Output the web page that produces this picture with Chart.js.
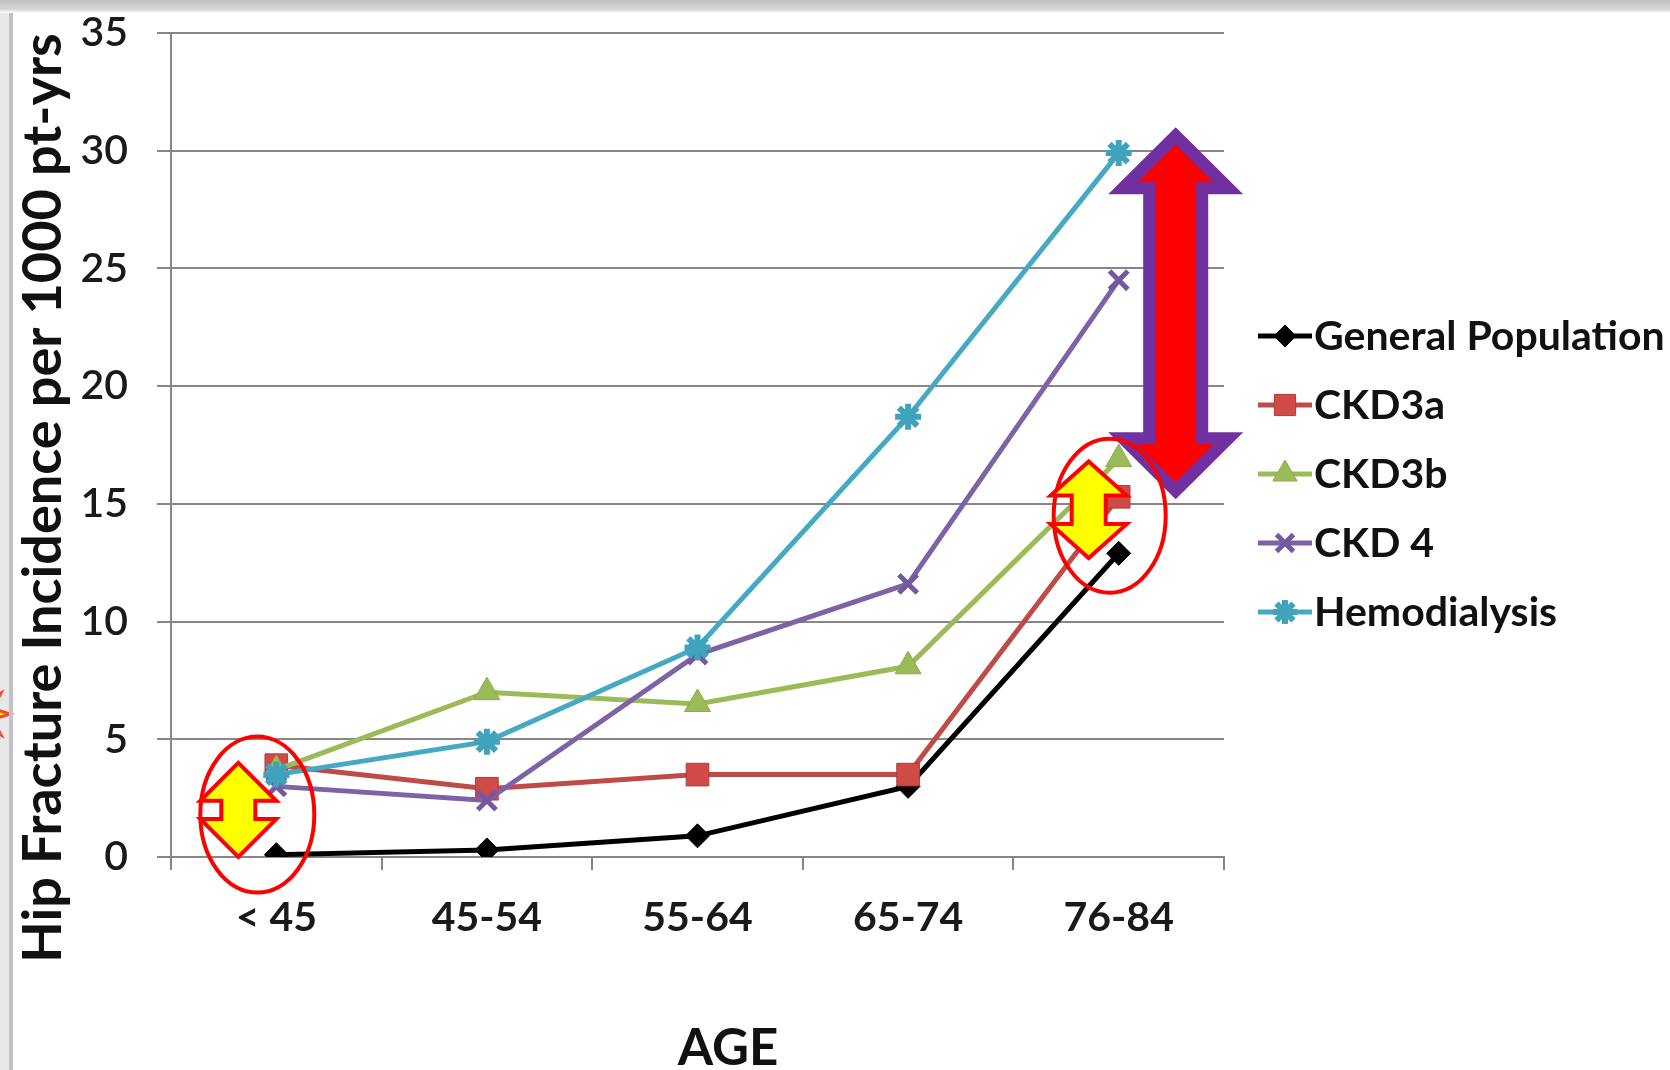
<!DOCTYPE html>
<html>
<head>
<meta charset="utf-8">
<script src="https://cdn.jsdelivr.net/npm/chart.js@4.4.1/dist/chart.umd.min.js"></script>
<style>
  html, body { margin: 0; padding: 0; background: #ffffff; overflow: hidden; }
  canvas { display: block; }
</style>
</head>
<body>
<canvas id="chart" width="1670" height="1070"></canvas>
<script>
// Hip fracture incidence per 1000 patient-years by age group
const ageGroups = ['< 45', '45-54', '55-64', '65-74', '76-84'];
const seriesNames = ['General Population', 'CKD3a', 'CKD3b', 'CKD 4', 'Hemodialysis'];
const generalPopulation = [0.1, 0.3, 0.9, 3.0, 12.9];
const ckd3a = [3.9, 2.9, 3.5, 3.5, 15.3];
const ckd3b = [3.7, 7.0, 6.5, 8.1, 16.9];
const ckd4 = [3.0, 2.4, 8.6, 11.6, 24.5];
const hemodialysis = [3.5, 4.9, 8.9, 18.7, 29.9];
const yTicks = [0, 5, 10, 15, 20, 25, 30, 35];

const FONT = 'Lato, "Open Sans", "DejaVu Sans", sans-serif';
const GRID = '#878787';

const styles = [
  { line: '#000000', fill: '#000000', edge: '#000000', shape: 'rectRot', r: 12, bw: 1 },
  { line: '#BE4B48', fill: '#D04A47', edge: '#B03B38', shape: 'rect', r: 16, bw: 1 },
  { line: '#9BBB59', fill: '#9BBB59', edge: '#8DAA50', shape: 'triangle', r: 15, bw: 1 },
  { line: '#7E62A6', fill: '#7E62A6', edge: '#7459A0', shape: 'crossRot', r: 13, bw: 5 },
  { line: '#45A9C4', fill: '#45A9C4', edge: '#3FA3BE', shape: 'star', r: 13, bw: 6 }
];
const values = [generalPopulation, ckd3a, ckd3b, ckd4, hemodialysis];

const datasets = values.map((data, i) => ({
  label: seriesNames[i],
  data: data,
  borderColor: styles[i].line,
  backgroundColor: styles[i].fill,
  borderWidth: 5,
  tension: 0,
  pointStyle: styles[i].shape,
  pointRadius: styles[i].r,
  pointHoverRadius: styles[i].r,
  pointBackgroundColor: styles[i].fill,
  pointBorderColor: styles[i].edge,
  pointBorderWidth: styles[i].bw,
  order: values.length - i
}));

// Up/down double arrow outline
function doubleArrowPath(ctx, cx, yTop, yBot, headHalf, shaftHalf, headLen) {
  ctx.beginPath();
  ctx.moveTo(cx, yTop);
  ctx.lineTo(cx + headHalf, yTop + headLen);
  ctx.lineTo(cx + shaftHalf, yTop + headLen);
  ctx.lineTo(cx + shaftHalf, yBot - headLen);
  ctx.lineTo(cx + headHalf, yBot - headLen);
  ctx.lineTo(cx, yBot);
  ctx.lineTo(cx - headHalf, yBot - headLen);
  ctx.lineTo(cx - shaftHalf, yBot - headLen);
  ctx.lineTo(cx - shaftHalf, yTop + headLen);
  ctx.lineTo(cx - headHalf, yTop + headLen);
  ctx.closePath();
}

// Slide frame: grey top strip and left edge
const framePlugin = {
  id: 'frame',
  beforeDraw(chart) {
    const ctx = chart.ctx;
    ctx.save();
    ctx.fillStyle = '#ffffff';
    ctx.fillRect(0, 0, chart.width, chart.height);
    ctx.fillStyle = '#e8e8e8';
    ctx.fillRect(0, 0, 9, chart.height);
    // burst shape peeking in from the left edge
    ctx.beginPath();
    const bx = -20, by = 714, outer = 30, inner = 14, pts = 8;
    for (let k = 0; k < pts * 2; k++) {
      const a = (Math.PI * k) / pts;
      const rr = k % 2 === 0 ? outer : inner;
      const px = bx + rr * Math.cos(a), py = by + rr * Math.sin(a);
      if (k === 0) ctx.moveTo(px, py); else ctx.lineTo(px, py);
    }
    ctx.closePath();
    ctx.fillStyle = '#FFFF00';
    ctx.fill();
    ctx.strokeStyle = '#F04A3A';
    ctx.lineWidth = 3;
    ctx.stroke();
    ctx.fillStyle = '#c2c2c2';
    ctx.fillRect(9, 0, 4, chart.height);
    const g = ctx.createLinearGradient(0, 0, 0, 13);
    g.addColorStop(0, '#c0c0c0');
    g.addColorStop(0.7, '#d4d4d4');
    g.addColorStop(1, '#ffffff');
    ctx.fillStyle = g;
    ctx.fillRect(0, 0, chart.width, 13);
    ctx.restore();
  }
};

// Axis titles
const titlesPlugin = {
  id: 'titles',
  afterDraw(chart) {
    const ctx = chart.ctx;
    ctx.save();
    ctx.fillStyle = '#111111';
    ctx.font = 'bold 51px ' + FONT;
    ctx.textAlign = 'center';
    ctx.textBaseline = 'alphabetic';
    ctx.fillText('AGE', 728, 1065);
    ctx.translate(61, 498);
    ctx.rotate(-Math.PI / 2);
    ctx.font = 'bold 54px ' + FONT;
    ctx.fillText('Hip Fracture Incidence per 1000 pt-yrs', 0, 0);
    ctx.restore();
  }
};

// Legend with line-and-marker keys
const legendPlugin = {
  id: 'sideLegend',
  afterDraw(chart) {
    const ctx = chart.ctx;
    const x0 = chart.chartArea.right + 34;
    const y0 = 336;
    const step = 69;
    ctx.save();
    ctx.font = 'bold 41px ' + FONT;
    ctx.textAlign = 'left';
    ctx.textBaseline = 'alphabetic';
    seriesNames.forEach((name, i) => {
      const y = y0 + i * step;
      const s = styles[i];
      ctx.strokeStyle = s.line;
      ctx.lineWidth = 5;
      ctx.beginPath();
      ctx.moveTo(x0, y);
      ctx.lineTo(x0 + 54, y);
      ctx.stroke();
      ctx.fillStyle = s.fill;
      ctx.strokeStyle = s.edge;
      ctx.lineWidth = s.bw;
      Chart.helpers.drawPoint(ctx, { pointStyle: s.shape, radius: s.r - 1, rotation: 0, borderWidth: s.bw }, x0 + 27, y);
      ctx.fillStyle = '#111111';
      ctx.fillText(name, x0 + 56, y + 14);
    });
    ctx.restore();
  }
};

// Highlight ellipses and arrows, placed on the data scales
const calloutsPlugin = {
  id: 'callouts',
  afterDatasetsDraw(chart) {
    const ctx = chart.ctx;
    const xs = chart.scales.x, ys = chart.scales.y;
    ctx.save();
    ctx.lineJoin = 'miter';

    // big purple-rimmed red arrow beside the oldest group
    const bx = xs.getPixelForValue(4) + 57;
    const bTop = ys.getPixelForValue(31.0), bBot = ys.getPixelForValue(15.2);
    doubleArrowPath(ctx, bx, bTop, bBot, 67.5, 32.5, 67);
    ctx.fillStyle = '#7030A0';
    ctx.fill();
    doubleArrowPath(ctx, bx, bTop + 17, bBot - 17, 38, 20.5, 38);
    ctx.fillStyle = '#FF0000';
    ctx.fill();

    // ellipses around the youngest and oldest groups
    ctx.strokeStyle = '#FF0000';
    ctx.lineWidth = 4;
    ctx.beginPath();
    ctx.ellipse(xs.getPixelForValue(0) - 19, ys.getPixelForValue(1.8), 57, 78, 0, 0, Math.PI * 2);
    ctx.stroke();
    ctx.beginPath();
    ctx.ellipse(xs.getPixelForValue(4) - 9, ys.getPixelForValue(14.5), 56, 77, 0, 0, Math.PI * 2);
    ctx.stroke();

    // yellow double arrows
    ctx.fillStyle = '#FFFF00';
    ctx.strokeStyle = '#FF0000';
    ctx.lineWidth = 4;
    doubleArrowPath(ctx, xs.getPixelForValue(0) - 38, ys.getPixelForValue(4.0), ys.getPixelForValue(0), 38, 17, 38);
    ctx.fill();
    ctx.stroke();
    doubleArrowPath(ctx, xs.getPixelForValue(4) - 30, ys.getPixelForValue(16.8), ys.getPixelForValue(12.7), 38, 17, 34);
    ctx.fill();
    ctx.stroke();
    ctx.restore();
  }
};

new Chart(document.getElementById('chart'), {
  type: 'line',
  data: { labels: ageGroups, datasets: datasets },
  options: {
    responsive: false,
    animation: false,
    devicePixelRatio: 1,
    layout: { padding: { top: 33, right: 446, left: 0, bottom: 0 } },
    plugins: {
      legend: { display: false },
      tooltip: { enabled: false }
    },
    scales: {
      x: {
        type: 'category',
        offset: true,
        afterFit(scale) { scale.height = 213; },
        grid: {
          offset: true,
          drawOnChartArea: false,
          drawTicks: true,
          tickLength: 13,
          color: GRID,
          lineWidth: 2
        },
        border: { display: true, color: GRID, width: 2 },
        ticks: {
          color: '#1a1a1a',
          padding: 23,
          font: { family: FONT, size: 41, weight: 'bold' }
        }
      },
      y: {
        min: 0,
        max: 35,
        afterFit(scale) {
          scale.width = 171;
          scale.paddingTop = 0;
          scale.paddingBottom = 0;
        },
        afterBuildTicks(scale) { scale.ticks = yTicks.map(v => ({ value: v })); },
        grid: {
          color: GRID,
          lineWidth: 2,
          drawTicks: true,
          tickLength: 14
        },
        border: { display: true, color: GRID, width: 2 },
        ticks: {
          color: '#1a1a1a',
          padding: 29,
          font: { family: FONT, size: 41, weight: 600 }
        }
      }
    }
  },
  plugins: [framePlugin, calloutsPlugin, legendPlugin, titlesPlugin]
});
</script>
</body>
</html>
